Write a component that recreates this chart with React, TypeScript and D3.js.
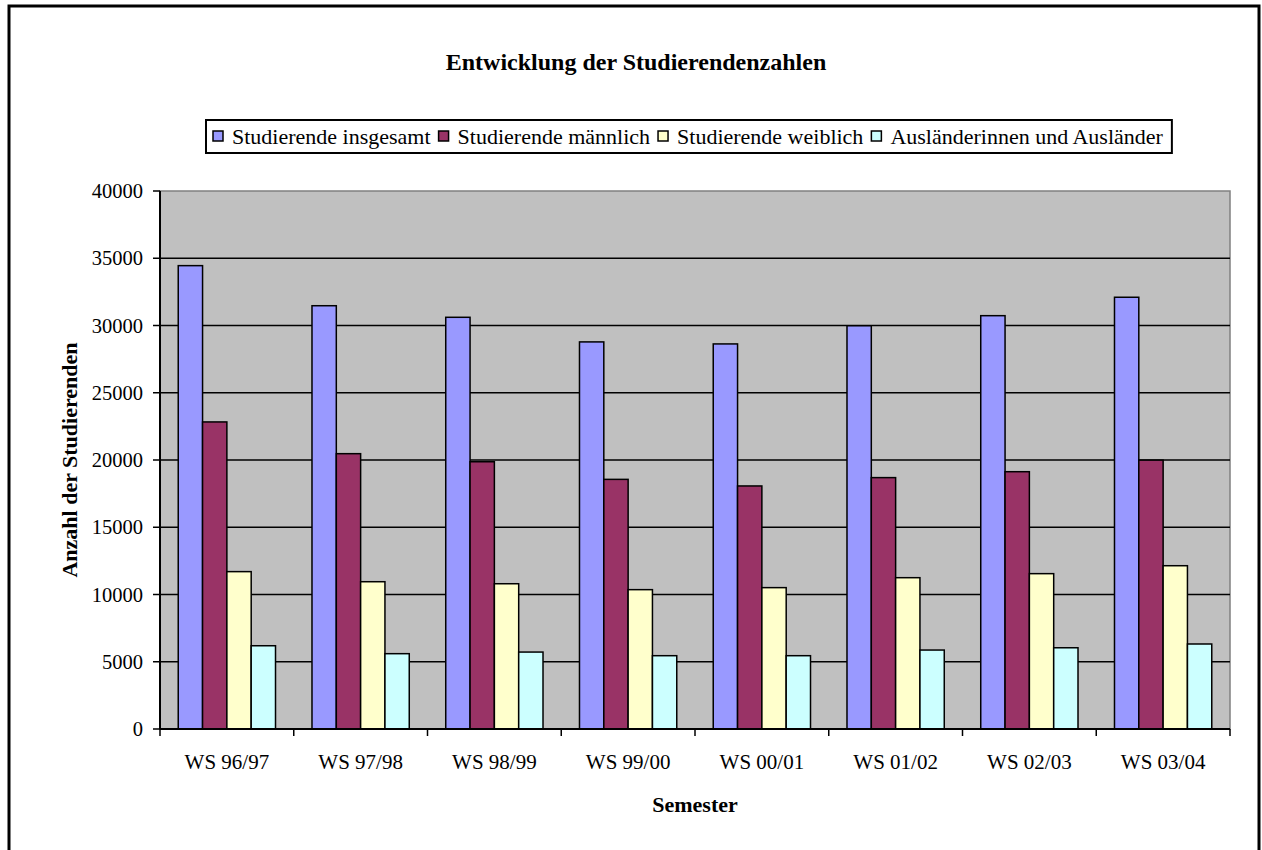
import React, { useEffect, useRef } from "react";
import * as d3 from "d3";

const categories = ["WS 96/97", "WS 97/98", "WS 98/99", "WS 99/00", "WS 00/01", "WS 01/02", "WS 02/03", "WS 03/04"];
const seriesNames = ["Studierende insgesamt", "Studierende männlich", "Studierende weiblich", "Ausländerinnen und Ausländer"];
const insgesamt = [34450, 31470, 30610, 28780, 28630, 29980, 30730, 32100];
const maennlich = [22830, 20470, 19870, 18560, 18070, 18690, 19130, 19990];
const weiblich = [11700, 10950, 10800, 10360, 10510, 11250, 11550, 12140];
const auslaender = [6190, 5600, 5720, 5450, 5450, 5870, 6040, 6320];
const yTicks = [0, 5000, 10000, 15000, 20000, 25000, 30000, 35000, 40000];
const colors = ["#9999FF", "#993366", "#FFFFCC", "#CCFFFF"];

const FONT = "'Liberation Serif', 'Times New Roman', serif";

export default function App() {
  const ref = useRef<SVGSVGElement | null>(null);

  useEffect(() => {
    const svg = d3.select(ref.current);
    svg.selectAll("*").remove();
    const left = 160, right = 1230, top = 191, bottom = 729;

    svg.append("rect").attr("x", 9).attr("y", 6).attr("width", 1250).attr("height", 860)
      .attr("fill", "white").attr("stroke", "black").attr("stroke-width", 3);

    const cat = d3.scaleBand().domain(categories).range([left, right]).padding(0);
    const inner = d3.scaleBand().domain(seriesNames.map((_, i) => String(i))).range([0, cat.bandwidth()]).paddingOuter(0.75).paddingInner(0);
    const y = d3.scaleLinear().domain([0, 40000]).range([bottom, top]);

    svg.append("rect").attr("x", left).attr("y", top).attr("width", right - left).attr("height", bottom - top)
      .attr("fill", "#C0C0C0").attr("stroke", "#808080").attr("stroke-width", 1.5);

    svg.append("g").selectAll("line").data(yTicks.filter(t => t > 0 && t < 40000)).join("line")
      .attr("x1", left).attr("x2", right).attr("y1", d => y(d)).attr("y2", d => y(d))
      .attr("stroke", "black").attr("stroke-width", 1.5);

    const data = [insgesamt, maennlich, weiblich, auslaender];
    const g = svg.append("g");
    data.forEach((vals, si) => {
      g.append("g").selectAll("rect").data(vals).join("rect")
        .attr("x", (_, i) => (cat(categories[i]) as number) + (inner(String(si)) as number))
        .attr("y", d => y(d))
        .attr("width", inner.bandwidth())
        .attr("height", d => bottom - y(d))
        .attr("fill", colors[si]).attr("stroke", "black").attr("stroke-width", 1.5);
    });

    svg.append("line").attr("x1", left).attr("x2", left).attr("y1", top).attr("y2", bottom).attr("stroke", "black").attr("stroke-width", 2);
    svg.append("line").attr("x1", left).attr("x2", right).attr("y1", bottom).attr("y2", bottom).attr("stroke", "black").attr("stroke-width", 2);

    svg.append("g").selectAll("line").data(yTicks).join("line")
      .attr("x1", left - 7).attr("x2", left).attr("y1", d => y(d)).attr("y2", d => y(d))
      .attr("stroke", "black").attr("stroke-width", 1.5);
    svg.append("g").selectAll("text").data(yTicks).join("text")
      .attr("x", 143).attr("y", d => y(d)).attr("dy", "0.35em").attr("text-anchor", "end")
      .attr("font-family", FONT).attr("font-size", 20.5).text(d => String(d));

    const xt = categories.map(c => cat(c) as number).concat([right]);
    svg.append("g").selectAll("line").data(xt).join("line")
      .attr("x1", d => d).attr("x2", d => d).attr("y1", bottom).attr("y2", bottom + 7)
      .attr("stroke", "black").attr("stroke-width", 1.5);
    svg.append("g").selectAll("text").data(categories).join("text")
      .attr("x", d => (cat(d) as number) + cat.bandwidth() / 2).attr("y", 769).attr("text-anchor", "middle")
      .attr("font-family", FONT).attr("font-size", 21).text(d => d);

    svg.append("text").attr("x", 636).attr("y", 70).attr("text-anchor", "middle")
      .attr("font-family", FONT).attr("font-size", 24).attr("font-weight", "bold")
      .text("Entwicklung der Studierendenzahlen");
    svg.append("text").attr("x", 695).attr("y", 812).attr("text-anchor", "middle")
      .attr("font-family", FONT).attr("font-size", 22).attr("font-weight", "bold").text("Semester");
    svg.append("text").attr("transform", `translate(77,${(top + bottom) / 2}) rotate(-90)`).attr("text-anchor", "middle")
      .attr("font-family", FONT).attr("font-size", 22).attr("font-weight", "bold").text("Anzahl der Studierenden");

    const lg = svg.append("g");
    const box = lg.append("rect").attr("y", 120).attr("height", 33).attr("fill", "white").attr("stroke", "black").attr("stroke-width", 2);
    let cx = 213;
    const lx0 = 206;
    seriesNames.forEach((name, i) => {
      lg.append("rect").attr("x", cx).attr("y", 131).attr("width", 10).attr("height", 10)
        .attr("fill", colors[i]).attr("stroke", "black").attr("stroke-width", 1.5);
      const t = lg.append("text").attr("x", cx + 19).attr("y", 144).attr("font-family", FONT).attr("font-size", 22).text(name);
      const w = (t.node() as SVGTextElement).getComputedTextLength();
      cx = cx + 19 + w + 8;
    });
    box.attr("x", lx0).attr("width", cx - lx0 + 1);
  }, []);

  return (
    <svg ref={ref} width={1262} height={850} style={{ position: "absolute", left: 0, top: 0, background: "white" }} />
  );
}
